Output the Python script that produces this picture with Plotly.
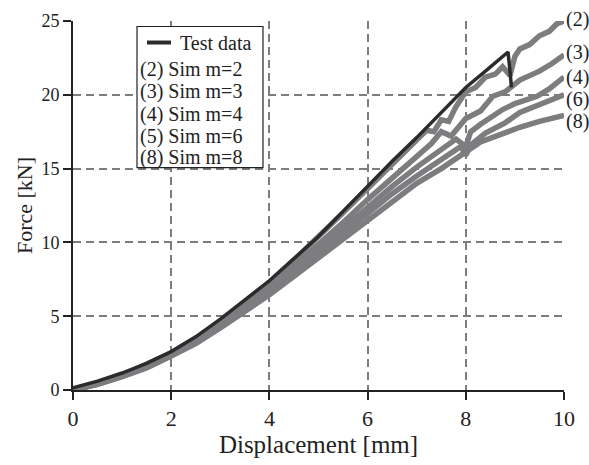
import plotly.graph_objects as go

# ---- data ----
disp_test = [0, 0.5, 1.0, 1.5, 2.0, 2.5, 3.0, 3.5, 4.0, 4.5, 5.0, 5.5, 6.0, 6.5, 7.0, 7.5, 8.0, 8.4, 8.86, 8.9, 8.93]
force_test = [0.15, 0.6, 1.15, 1.8, 2.6, 3.6, 4.8, 6.1, 7.4, 8.9, 10.4, 12.1, 13.8, 15.5, 17.1, 18.8, 20.5, 21.6, 22.9, 21.6, 20.5]

disp_m2 = [0, 0.5, 1, 1.5, 2, 2.5, 3, 3.5, 4, 4.5, 5, 5.5, 6, 6.5, 7, 7.2, 7.35, 7.5, 7.65, 7.8, 8.0, 8.2, 8.4, 8.6, 8.75, 8.9, 9.0, 9.1, 9.3, 9.5, 9.7, 9.85, 10]
force_m2 = [0, 0.45, 1.0, 1.7, 2.5, 3.5, 4.65, 5.95, 7.3, 8.8, 10.35, 12.0, 13.65, 15.3, 16.9, 17.6, 17.5, 18.3, 18.2, 19.2, 20.2, 20.5, 21.2, 21.4, 21.9, 21.3, 22.6, 23.1, 23.4, 24.0, 24.3, 24.8, 25.0]

disp_m3 = [0, 0.5, 1, 1.5, 2, 2.5, 3, 3.5, 4, 4.5, 5, 5.5, 6, 6.5, 7, 7.3, 7.5, 7.7, 8.0, 8.3, 8.55, 8.8, 9.1, 9.3, 9.5, 9.75, 10]
force_m3 = [0, 0.42, 0.98, 1.65, 2.45, 3.4, 4.5, 5.75, 7.0, 8.4, 9.85, 11.35, 12.9, 14.4, 15.9, 16.7, 17.5, 17.2, 18.4, 18.9, 19.9, 20.2, 21.0, 21.3, 21.6, 22.1, 22.7]

disp_m4 = [0, 0.5, 1, 1.5, 2, 2.5, 3, 3.5, 4, 4.5, 5, 5.5, 6, 6.5, 7, 7.5, 7.8, 8.0, 8.1, 8.3, 8.75, 9.0, 9.45, 9.7, 10]
force_m4 = [0, 0.4, 0.95, 1.6, 2.4, 3.3, 4.4, 5.6, 6.8, 8.1, 9.5, 10.95, 12.4, 13.8, 15.1, 16.3, 17.0, 16.5, 17.5, 18.0, 19.0, 19.4, 19.9, 20.4, 21.2]

disp_m6 = [0, 0.5, 1, 1.5, 2, 2.5, 3, 3.5, 4, 4.5, 5, 5.5, 6, 6.5, 7, 7.5, 7.9, 8.0, 8.1, 8.4, 8.8, 9.1, 9.5, 10]
force_m6 = [0, 0.4, 0.92, 1.55, 2.35, 3.25, 4.3, 5.45, 6.6, 7.9, 9.2, 10.6, 11.95, 13.3, 14.5, 15.6, 16.5, 15.9, 16.6, 17.4, 18.1, 18.8, 19.3, 20.0]

disp_m8 = [0, 0.5, 1, 1.5, 2, 2.5, 3, 3.5, 4, 4.5, 5, 5.5, 6, 6.5, 7, 7.5, 7.95, 8.3, 8.7, 9.1, 9.5, 10]
force_m8 = [0, 0.38, 0.9, 1.5, 2.3, 3.15, 4.2, 5.3, 6.45, 7.7, 8.95, 10.25, 11.55, 12.8, 14.0, 15.0, 16.0, 16.8, 17.3, 17.8, 18.2, 18.6]

end_labels = ["(2)", "(3)", "(4)", "(6)", "(8)"]
end_label_y = [25.0, 22.9, 21.2, 19.7, 18.2]

legend_labels = ["Test data", "(2) Sim m=2", "(3) Sim m=3", "(4) Sim m=4", "(5) Sim m=6", "(8) Sim m=8"]

x_ticks = [0, 2, 4, 6, 8, 10]
y_ticks = [0, 5, 10, 15, 20, 25]

# ---- styling ----
GRAY = "#7d7d80"
DARK = "#2b2b2b"
FONT = "Liberation Serif"

fig = go.Figure()

sims = [(disp_m8, force_m8), (disp_m6, force_m6), (disp_m4, force_m4),
        (disp_m3, force_m3), (disp_m2, force_m2)]
for dx, fy in sims:
    fig.add_trace(go.Scatter(x=dx, y=fy, mode="lines",
                             line=dict(color=GRAY, width=5.5),
                             showlegend=False, hoverinfo="skip"))

fig.add_trace(go.Scatter(x=disp_test, y=force_test, mode="lines",
                         line=dict(color=DARK, width=3.5),
                         showlegend=False, hoverinfo="skip"))

# end labels
for lab, yy in zip(end_labels, end_label_y):
    fig.add_annotation(x=10, y=yy, xref="x", yref="y", text=lab,
                       showarrow=False, xanchor="left", yanchor="middle",
                       xshift=0, yshift=2 if lab == "(2)" else 0,
                       font=dict(family=FONT, size=20, color="#222"))

# ---- manual legend box ----
L, R, T, B = 73, 564, 21.5, 390
def px(xp):
    return (xp - L) / (R - L)
def py(yp):
    return (B - yp) / (B - T)

fig.add_shape(type="rect", xref="paper", yref="paper",
              x0=px(137), x1=px(263), y0=py(168), y1=py(27),
              fillcolor="white", line=dict(color="#222", width=1.2), layer="above")
fig.add_shape(type="line", xref="paper", yref="paper",
              x0=px(147), x1=px(171), y0=py(43), y1=py(43),
              line=dict(color=DARK, width=4), layer="above")
leg_y = [43, 70, 92, 115, 137, 158]
for i, (lab, yp) in enumerate(zip(legend_labels, leg_y)):
    xl = 178 if i == 0 else 138
    fig.add_annotation(x=px(xl), y=py(yp), xref="paper", yref="paper", text=lab,
                       showarrow=False, xanchor="left", yanchor="middle",
                       font=dict(family=FONT, size=20, color="#222"))

axis_common = dict(
    showline=True, linecolor="#222", linewidth=2,
    ticks="outside", ticklen=8, tickwidth=2, tickcolor="#222",
    showgrid=True, gridcolor=GRAY, gridwidth=2, griddash="8px,5px",
    zeroline=False, mirror=False,
)

fig.update_xaxes(range=[0, 10], tickvals=x_ticks,
                 ticktext=[str(v) for v in x_ticks],
                 tickfont=dict(family=FONT, size=22, color="#222"),
                 title=dict(text="Displacement [mm]", standoff=2,
                            font=dict(family=FONT, size=25, color="#222")),
                 **axis_common)
fig.update_yaxes(range=[0, 25], tickvals=y_ticks,
                 ticktext=[str(v) for v in y_ticks],
                 tickfont=dict(family=FONT, size=18, color="#222"),
                 title=dict(text="Force [kN]", standoff=3,
                            font=dict(family=FONT, size=22, color="#222")),
                 **axis_common)

fig.update_layout(
    width=589, height=465,
    margin=dict(l=73, r=25, t=21, b=75),
    paper_bgcolor="white", plot_bgcolor="white",
    showlegend=False,
)

fig.write_html("out.html", config={"displayModeBar": False},
               post_script="document.body.style.margin='0';")
